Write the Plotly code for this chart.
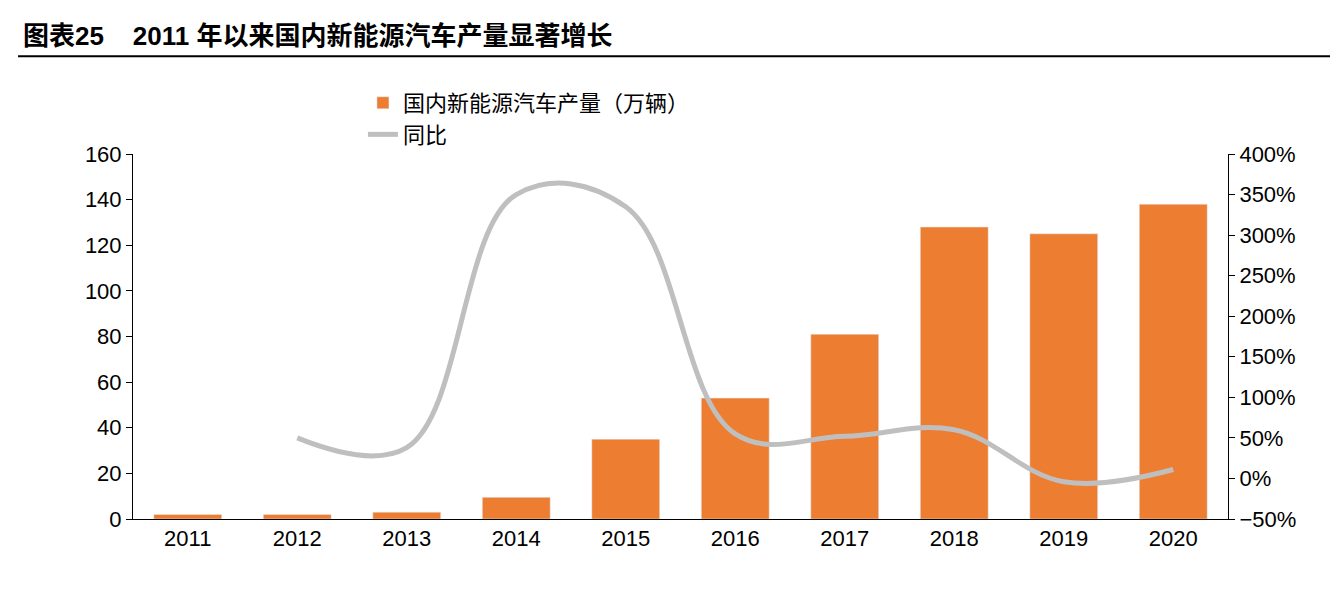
import plotly.graph_objects as go

years = ["2011", "2012", "2013", "2014", "2015", "2016", "2017", "2018", "2019", "2020"]
output = [2, 2, 3, 9.5, 35, 53, 81, 128, 125, 138]
yoy_years = years[1:]
yoy = [50, 38, 350, 335, 55, 52, 60, -4, 11]

fig = go.Figure()
fig.add_trace(go.Bar(x=years, y=output, name="国内新能源汽车产量（万辆）",
                     marker_color="#ED7D31", width=0.62))
fig.add_trace(go.Scatter(x=yoy_years, y=yoy, name="同比", yaxis="y2", mode="lines",
                         line=dict(color="#BFBFBF", width=5, shape="spline", smoothing=1.1)))

font = "Liberation Sans, Noto Sans CJK SC, sans-serif"
fig.update_layout(
    width=1338, height=601,
    margin=dict(l=125, r=118, t=146, b=90),
    plot_bgcolor="white", paper_bgcolor="white",
    font=dict(family=font, size=22, color="black"),
    showlegend=True,
    legend=dict(orientation="h", x=0.21, xanchor="left", y=1.096, yanchor="middle",
                bgcolor="rgba(0,0,0,0)", font=dict(size=22), traceorder="normal",
                entrywidthmode="pixels", entrywidth=520),
    xaxis=dict(showline=True, linecolor="black", ticks="", showgrid=False),
    yaxis=dict(range=[0, 160], dtick=20, showline=True, linecolor="black",
               ticks="outside", ticklen=6, tickcolor="black", showgrid=False),
    yaxis2=dict(range=[-50, 400], dtick=50, overlaying="y", side="right",
                ticksuffix="%", showline=True, linecolor="black", ticks="outside",
                ticklen=6, tickcolor="black", showgrid=False),
    shapes=[
        dict(type="line", xref="paper", yref="paper", x0=-0.105, x1=1.108,
             y0=1.268, y1=1.268, line=dict(color="black", width=2)),
        dict(type="line", xref="paper", yref="paper", x0=-0.105, x1=1.108,
             y0=-0.238, y1=-0.238, line=dict(color="black", width=2)),
    ],
    annotations=[dict(text="<b>图表25    2011 年以来国内新能源汽车产量显著增长</b>",
                      xref="paper", yref="paper", x=-0.102, y=1.323, xanchor="left",
                      yanchor="middle", showarrow=False, font=dict(size=26))],
)
fig.write_html("out.html")
